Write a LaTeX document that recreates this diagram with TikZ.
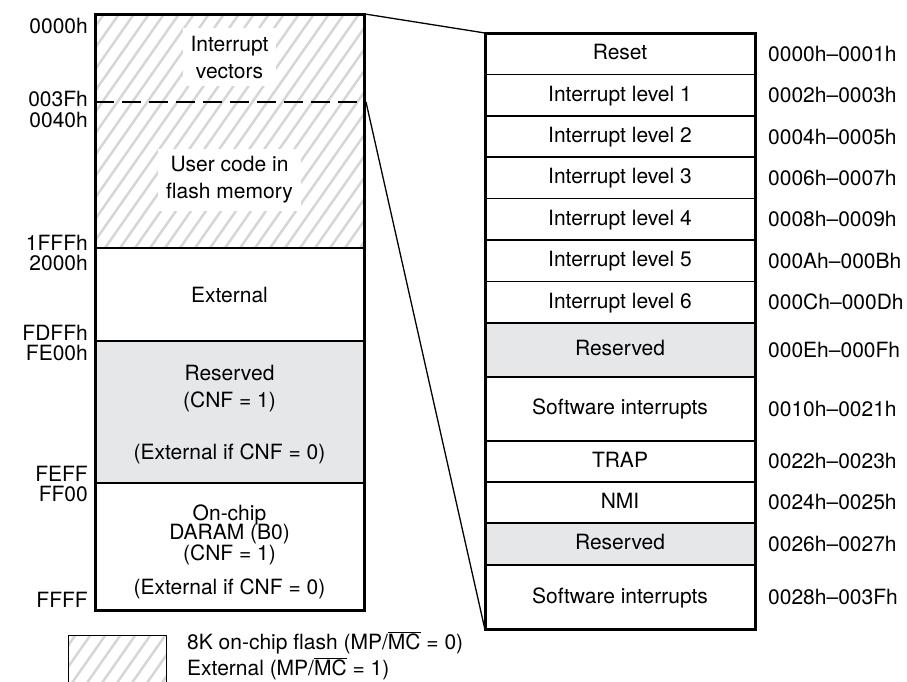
\documentclass[tikz,border=0pt]{standalone}
\usepackage{fontspec}
\setmainfont{TeX Gyre Heros}
\usetikzlibrary{positioning}
\definecolor{resgray}{HTML}{E6E7E8}
\definecolor{hatchgray}{HTML}{D6D6D6}
\tikzset{
  lbl/.style={inner sep=0pt,text height=15pt,text depth=0pt},
  addr/.style={lbl,anchor=west},
  vec/.style={draw,line width=1.5pt,minimum width=270pt,inner sep=0pt,outer sep=0pt,text height=15pt,text depth=3pt},
  res/.style={vec,fill=resgray},
  hatchline/.style={hatchgray,line width=2.5pt},
  cover/.style={fill=white,inner sep=8pt,align=center},
  thinline/.style={line width=1.3pt},
}

\begin{document}
\begin{tikzpicture}[x=1pt,y=-1pt,font=\fontsize{21}{27}\selectfont]
\useasboundingbox (0,0) rectangle (907,681);

% data memory map
\fill[resgray] (95,341) rectangle (364,483);
\begin{scope}
  \clip (95,14) rectangle (364,248);
  \foreach \x in {-75,-60,...,375}
    \draw[hatchline] (\x,248) -- ++(164,-234);
\end{scope}
\draw[thinline,dash pattern=on 19pt off 8pt] (95,102) -- (364,102);
\draw[thinline] (95,248) -- (364,248);
\draw[thinline] (95,341) -- (364,341);
\draw[thinline] (95,483) -- (364,483);
\draw[line width=3pt] (95,14) rectangle (364,610);
\coordinate (flashtop) at (365,14);
\coordinate (vecend) at (366,102);

\node[cover] (ivec) at (229.5,57) {Interrupt\\vectors};
\node[cover] (user) at (229.5,180) {User code in\\flash memory};
\node[lbl] (ext) at (229.5,295) {External};
\node[lbl] (res) at (229.5,373) {Reserved};
\node[lbl] (rescnf) at (229.5,400) {(CNF = 1)};
\node[lbl] (resext) at (229.5,452) {(External if CNF = 0)};
\node[lbl] (onchip) at (229.5,513) {On-chip};
\node[lbl] (daram) at (229.5,532) {DARAM (B0)};
\node[lbl] (daramcnf) at (229.5,553) {(CNF = 1)};
\node[lbl] (daramext) at (229.5,587) {(External if CNF = 0)};

% addresses
\node[lbl,anchor=east] (m0000) at (88,26) {0000h};
\node[lbl,anchor=east] (m003f) at (88,99) {003Fh};
\node[lbl,anchor=east] (m0040) at (88,120) {0040h};
\node[lbl,anchor=east] (m1fff) at (88,243) {1FFFh};
\node[lbl,anchor=east] (m2000) at (88,263) {2000h};
\node[lbl,anchor=east] (mfdff) at (88,333) {FDFFh};
\node[lbl,anchor=east] (mfe00) at (88,353) {FE00h};
\node[lbl,anchor=east] (mfeff) at (88,474) {FEFF};
\node[lbl,anchor=east] (mff00) at (88,494) {FF00};
\node[lbl,anchor=east] (mffff) at (88,600) {FFFF};

% interrupt vector table
\node[vec,minimum height=41.4pt] (reset) at (620,53.7) {Reset};
\node[vec,minimum height=41.4pt,below=0pt of reset] (int1) {Interrupt level 1};
\node[vec,minimum height=41.4pt,below=0pt of int1] (int2) {Interrupt level 2};
\node[vec,minimum height=41.4pt,below=0pt of int2] (int3) {Interrupt level 3};
\node[vec,minimum height=41.4pt,below=0pt of int3] (int4) {Interrupt level 4};
\node[vec,minimum height=41.4pt,below=0pt of int4] (int5) {Interrupt level 5};
\node[vec,minimum height=41.4pt,below=0pt of int5] (int6) {Interrupt level 6};
\node[res,minimum height=54pt,below=0pt of int6] (rsv1) {Reserved};
\node[vec,minimum height=64pt,below=0pt of rsv1] (sw1) {Software interrupts};
\node[vec,minimum height=41pt,below=0pt of sw1] (trap) {TRAP};
\node[vec,minimum height=41pt,below=0pt of trap] (nmi) {NMI};
\node[res,minimum height=42pt,below=0pt of nmi] (rsv2) {Reserved};
\node[vec,minimum height=65pt,below=0pt of rsv2] (sw2) {Software interrupts};
\draw[line width=3pt] (reset.north west) rectangle (sw2.south east);

\node[addr,right=13pt of reset] (a0) {0000h–0001h};
\node[addr,right=13pt of int1] (a1) {0002h–0003h};
\node[addr,right=13pt of int2] (a2) {0004h–0005h};
\node[addr,right=13pt of int3] (a3) {0006h–0007h};
\node[addr,right=13pt of int4] (a4) {0008h–0009h};
\node[addr,right=13pt of int5] (a5) {000Ah–000Bh};
\node[addr,right=13pt of int6] (a6) {000Ch–000Dh};
\node[addr,right=13pt of rsv1] (a7) {000Eh–000Fh};
\node[addr,right=13pt of sw1] (a8) {0010h–0021h};
\node[addr,right=13pt of trap] (a9) {0022h–0023h};
\node[addr,right=13pt of nmi] (a10) {0024h–0025h};
\node[addr,right=13pt of rsv2] (a11) {0026h–0027h};
\node[addr,right=13pt of sw2] (a12) {0028h–003Fh};

% zoom lines
\draw[thinline] (flashtop) -- (reset.north west);
\draw[thinline] (vecend) -- (sw2.south west);

% key
\begin{scope}
  \clip (68,635) rectangle (166,700);
  \foreach \x in {15,30,...,180}
    \draw[hatchline] (\x,700) -- ++(45.5,-65);
\end{scope}
\draw[line width=1pt] (68,635) rectangle (166,700);
\node[lbl,anchor=west] (key1) at (187,642) {8K on-chip flash (MP/\(\overline{\mbox{MC}}\) = 0)};
\node[lbl,anchor=west] (key2) at (187,668) {External (MP/\(\overline{\mbox{MC}}\) = 1)};
\end{tikzpicture}
\end{document}
